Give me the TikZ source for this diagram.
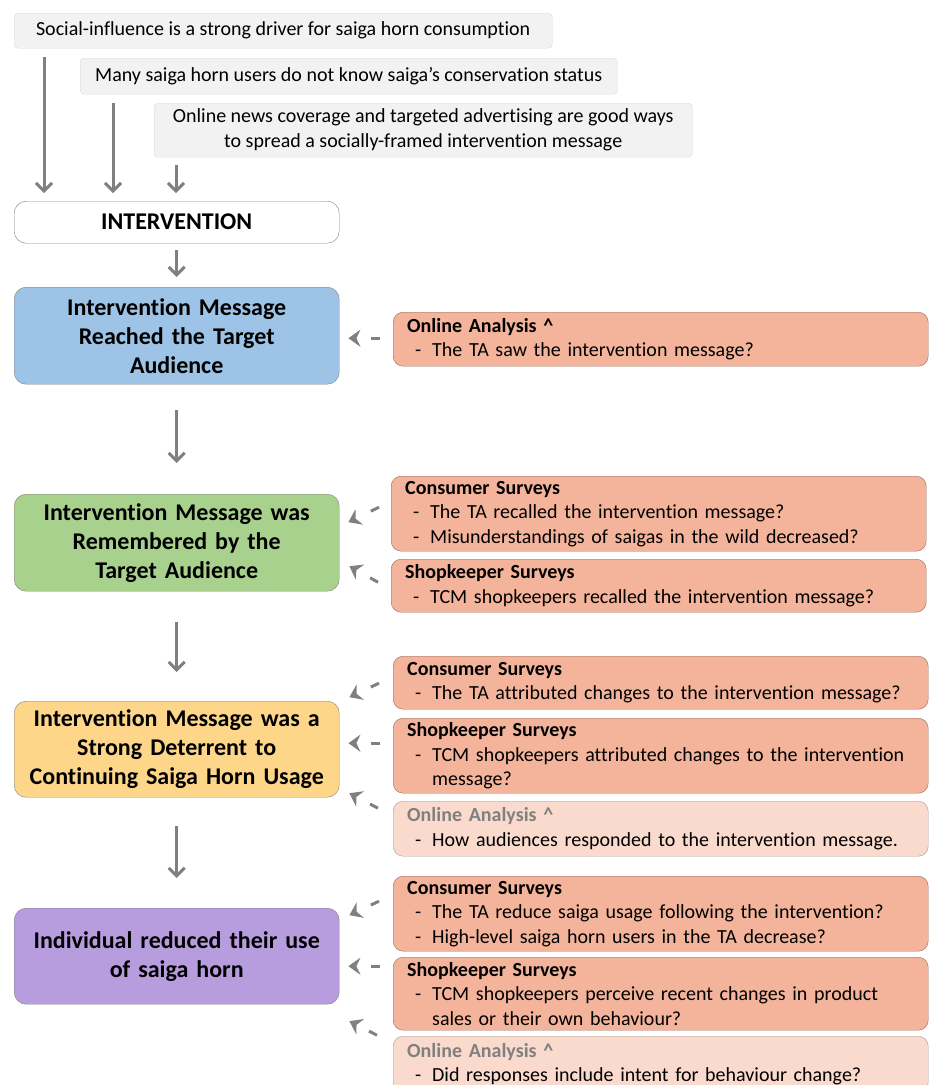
\documentclass[tikz,border=0pt]{standalone}
\usepackage{fontspec}
\setmainfont{Carlito}[Ligatures=NoCommon]
\usepackage{tikz}
\usetikzlibrary{arrows.meta,calc,positioning}
\definecolor{bluebox}{HTML}{9DC3E6}
\definecolor{greenbox}{HTML}{A9D18E}
\definecolor{yellowbox}{HTML}{FDD68A}
\definecolor{purplebox}{HTML}{B89DDE}
\definecolor{salmon}{HTML}{F4B49B}
\definecolor{palesalmon}{HTML}{F9DACD}
\definecolor{arrowgray}{HTML}{808080}
\newcommand{\qitem}{\makebox[25pt][l]{\hspace{8pt}-}}
\newcommand{\qcont}{\hspace*{25pt}}

\begin{document}
\begin{tikzpicture}[x=1pt,y=-1pt,
  premise/.style={draw=black!15,fill=black!5,rounded corners=4pt,anchor=north west,
    align=center,inner sep=0pt,font=\fontsize{20}{25}\selectfont},
  stage/.style={draw=black!50,rounded corners=12pt,anchor=north west,minimum width=325pt,
    text width=305pt,align=center,inner sep=0pt,font=\fontsize{24}{29}\selectfont\bfseries},
  method/.style={draw=salmon!60!black,fill=salmon,rounded corners=10pt,anchor=north west,
    text width=507pt,inner xsep=14pt,inner ysep=0pt,align=left,font=\fontsize{20}{24.5}\selectfont},
  faint/.style={method,draw=palesalmon!70!black,fill=palesalmon},
  flow/.style={draw=arrowgray,line width=3pt,-{Straight Barb[length=8pt,width=16pt]}},
  check/.style={draw=arrowgray,line width=3pt,dash pattern=on 9pt off 20pt,
    -{Stealth[length=12pt,width=17pt,inset=4pt]}}]
  \useasboundingbox (0,0) rectangle (929,1085);
  % premises
  \node[premise,minimum width=538pt,minimum height=35pt] (social) at (14,13)
    {Social-influence is a strong driver for saiga horn consumption};
  \node[premise,minimum width=537pt,minimum height=36pt] (status) at (80,58)
    {Many saiga horn users do not know saiga’s conservation status};
  \node[premise,minimum width=538pt,minimum height=54pt] (online) at (154,103)
    {Online news coverage and targeted advertising are good ways\\to spread a socially-framed intervention message};
  % stages
  \node[stage,fill=white,minimum height=42pt] (interv) at (14,201) {INTERVENTION};
  \node[stage,fill=bluebox,minimum height=97pt] (reach) at (14,287)
    {Intervention Message\\Reached the Target\\Audience};
  \node[stage,fill=greenbox,minimum height=97pt] (recall) at (14,494)
    {Intervention Message was\\Remembered by the\\Target Audience};
  \node[stage,fill=yellowbox,minimum height=96pt] (deter) at (14,701)
    {Intervention Message was a\\Strong Deterrent to\\Continuing Saiga Horn Usage};
  \node[stage,fill=purplebox,minimum height=96pt] (reduce) at (14,908)
    {Individual reduced their use\\of saiga horn};
  % evidence
  \node[method,minimum height=54pt] (oa1) at (393,312)
    {\textbf{Online Analysis \textasciicircum}\\\qitem The TA saw the intervention message?};
  \node[method,minimum height=75pt] (cs2) at (391,476)
    {\textbf{Consumer Surveys}\\\qitem The TA recalled the intervention message?\\\qitem Misunderstandings of saigas in the wild decreased?};
  \node[method,minimum height=53pt] (ss2) at (391,559)
    {\textbf{Shopkeeper Surveys}\\\qitem TCM shopkeepers recalled the intervention message?};
  \node[method,minimum height=53pt] (cs3) at (393,656)
    {\textbf{Consumer Surveys}\\\qitem The TA attributed changes to the intervention message?};
  \node[method,minimum height=75pt] (ss3) at (393,718)
    {\textbf{Shopkeeper Surveys}\\\qitem TCM shopkeepers attributed changes to the intervention\\\qcont message?};
  \node[faint,minimum height=55pt] (oa3) at (393,801)
    {\textcolor{black!50}{\textbf{Online Analysis \textasciicircum}}\\\qitem How audiences responded to the intervention message.};
  \node[method,minimum height=75pt] (cs4) at (393,876)
    {\textbf{Consumer Surveys}\\\qitem The TA reduce saiga usage following the intervention?\\\qitem High-level saiga horn users in the TA decrease?};
  \node[method,minimum height=73pt] (ss4) at (393,957)
    {\textbf{Shopkeeper Surveys}\\\qitem TCM shopkeepers perceive recent changes in product\\\qcont sales or their own behaviour?};
  \node[faint,minimum height=56pt] (oa4) at (393,1036)
    {\textcolor{black!50}{\textbf{Online Analysis \textasciicircum}}\\\qitem Did responses include intent for behaviour change?};
  % premises into intervention
  \draw[flow] ($(social.south west)+(30,9)$) -- ($(interv.north west)+(30,-8)$);
  \draw[flow] ($(status.south west)+(33,9)$) -- ($(interv.north west)+(99,-8)$);
  \draw[flow] ($(online.south west)+(22,8)$) -- ($(interv.north west)+(162,-8)$);
  % chain of stages
  \draw[flow,shorten <=7pt,shorten >=10pt] (interv.south) -- (reach.north);
  \draw[flow,shorten <=26pt,shorten >=31pt] (reach.south) -- (recall.north);
  \draw[flow,shorten <=31pt,shorten >=29pt] (recall.south) -- (deter.north);
  \draw[flow,shorten <=29pt,shorten >=30pt] (deter.south) -- (reduce.north);
  % checks
  \draw[check] ($(oa1.west)+(-13,-1)$) -- ($(reach.east)+(9,2.5)$);
  \draw[check] ($(cs2.west)+(-12,-6.5)$) -- ($(recall.east)+(9,-20.5)$);
  \draw[check] ($(ss2.west)+(-13,-3.5)$) -- ($(recall.east)+(10,23.5)$);
  \draw[check] ($(cs3.west)+(-14,0.5)$) -- ($(deter.east)+(10,-52)$);
  \draw[check] ($(ss3.west)+(-13,-12.5)$) -- ($(deter.east)+(9,-6)$);
  \draw[check] ($(oa3.west)+(-15,-20.5)$) -- ($(deter.east)+(10,44)$);
  \draw[check] ($(cs4.west)+(-14,-12.5)$) -- ($(reduce.east)+(10,-41)$);
  \draw[check] ($(ss4.west)+(-13,-27.5)$) -- ($(reduce.east)+(9,10)$);
  \draw[check] ($(oa4.west)+(-16,-29)$) -- ($(reduce.east)+(10,65)$);
\end{tikzpicture}
\end{document}
